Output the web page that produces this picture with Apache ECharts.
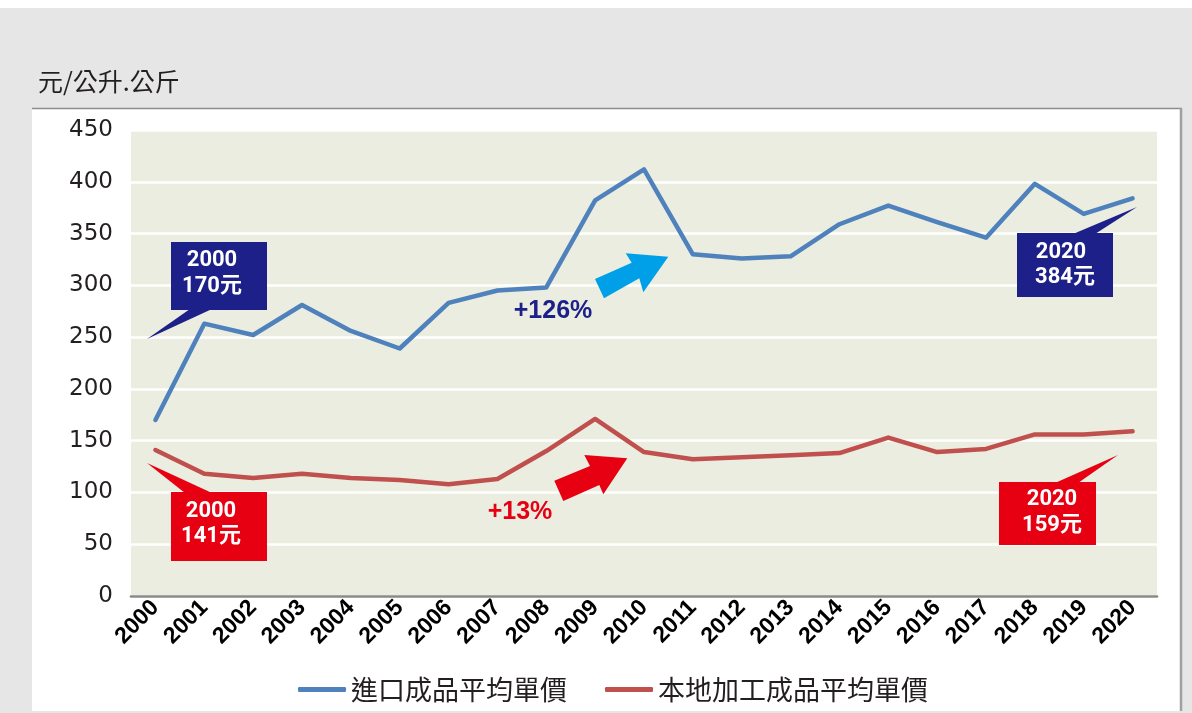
<!DOCTYPE html>
<html>
<head>
<meta charset="utf-8">
<script src="https://cdn.jsdelivr.net/npm/echarts@6/dist/echarts.min.js"></script>
<style>
html,body{margin:0;padding:0;background:#e6e6e6;}
#chart{width:1192px;height:713px;}
</style>
</head>
<body>
<div id="chart"></div>
<script>
const years = ['2000','2001','2002','2003','2004','2005','2006','2007','2008','2009','2010',
               '2011','2012','2013','2014','2015','2016','2017','2018','2019','2020'];
const importPrice = [170,263,252,281,256,239,283,295,298,382,412,330,326,328,359,377,361,346,398,369,384];
const localPrice  = [141,118,114,118,114,112,108,113,140,171,139,132,134,136,138,153,139,142,156,156,159];
const seriesNames = ['進口成品平均單價','本地加工成品平均單價'];
const unitTitle = '元/公升.公斤';
const yMin = 0, yMax = 450, yStep = 50;

const first = 0, last = years.length - 1;
const pct = arr => '+' + Math.round((arr[last] - arr[first]) / arr[first] * 100) + '%';
const lbl = (arr, i) => [years[i], arr[i] + '元'];

const NAVY = '#1d2088', RED = '#e60012', CYAN = '#00a0e9';
const cFont = 'bold 22px Roboto, "Noto Sans CJK TC", sans-serif';
const pFont = 'bold 25px "Liberation Sans", Arial, sans-serif';

function txt(t, x, y, fill, font) {
  return {type:'text', z:120, style:{text:t, x:x, y:y, fill:fill, font:font, align:'center', verticalAlign:'middle'}};
}
function poly(points, fill) {
  return {type:'polygon', z:110, shape:{points:points}, style:{fill:fill}};
}
function rect(x, y, w, h, fill, z) {
  return {type:'rect', z:z, shape:{x:x, y:y, width:w, height:h}, style:{fill:fill}};
}

const bl0 = lbl(importPrice, first), bl1 = lbl(importPrice, last);
const rl0 = lbl(localPrice, first), rl1 = lbl(localPrice, last);

const graphics = [
  rect(0, 0, 1192, 8, '#ffffff', -10),
  rect(32, 108, 1150, 603, '#ffffff', -10),
  {type:'line', z:-9, shape:{x1:32, y1:108.5, x2:1182, y2:108.5}, style:{stroke:'#8c8c8c', lineWidth:1.5}},
  {type:'line', z:-9, shape:{x1:1181, y1:108, x2:1181, y2:711}, style:{stroke:'#a0a0a0', lineWidth:2.5}},
  // blue callout 2000
  rect(171, 242, 96, 68, NAVY, 110),
  poly([[190,309],[212,309],[147,339]], NAVY),
  txt(bl0[0], 212, 260, '#ffffff', cFont),
  txt(bl0[1], 212, 286, '#ffffff', cFont),
  // blue callout 2020
  rect(1017, 233, 96, 64, NAVY, 110),
  poly([[1073,234],[1095,234],[1137,207]], NAVY),
  txt(bl1[0], 1061, 252, '#ffffff', cFont),
  txt(bl1[1], 1065, 277, '#ffffff', cFont),
  // red callout 2000
  rect(171, 492, 96, 69, RED, 110),
  poly([[185,493],[212,493],[147,463]], RED),
  txt(rl0[0], 211, 511, '#ffffff', cFont),
  txt(rl0[1], 211, 536, '#ffffff', cFont),
  // red callout 2020
  rect(999, 482, 97, 63, RED, 110),
  poly([[1055,483],[1078,483],[1118,455]], RED),
  txt(rl1[0], 1052, 499, '#ffffff', cFont),
  txt(rl1[1], 1052, 525, '#ffffff', cFont),
  // arrows
  poly([[595,279],[631.7,262.7],[625.7,253.3],[668.3,256.7],[643.3,292.3],[639.3,278.3],[604,298.3]], CYAN),
  poly([[554.3,480.7],[590,466],[584.3,455],[627.3,458.3],[603.3,494.3],[599.3,485],[563.3,501]], RED),
  txt(pct(importPrice), 553, 311, NAVY, pFont),
  txt(pct(localPrice), 520, 512, RED, pFont)
];

const chart = echarts.init(document.getElementById('chart'), null, {renderer:'canvas'});
chart.setOption({
  backgroundColor:'#e6e6e6',
  animation:false,
  title:{
    text:unitTitle, left:33, top:64,
    textStyle:{fontFamily:'"Noto Sans CJK TC", sans-serif', fontSize:25, fontWeight:'normal', color:'#231f20'}
  },
  grid:{left:131, right:35, top:130, bottom:117, show:true, backgroundColor:'#eaeddf', borderWidth:0, containLabel:false},
  legend:{
    data:seriesNames, left:293, top:671, itemGap:38, itemWidth:48, itemHeight:5, icon:'roundRect',
    textStyle:{fontFamily:'"Noto Sans CJK TC", sans-serif', fontSize:27, color:'#231f20'}
  },
  xAxis:{
    type:'category', data:years, boundaryGap:true,
    axisLine:{show:true, lineStyle:{color:'#8a8a8a', width:2.7}},
    axisTick:{show:false},
    axisLabel:{rotate:45, margin:8, interval:0, color:'#000000', fontSize:23, fontWeight:'bold',
               fontFamily:'"Liberation Sans", Arial, sans-serif'}
  },
  yAxis:{
    type:'value', min:yMin, max:yMax, interval:yStep,
    axisLine:{show:false}, axisTick:{show:false},
    splitLine:{show:true, lineStyle:{color:'#ffffff', width:2.5}},
    axisLabel:{margin:18, color:'#231f20', fontSize:23, fontFamily:'"DejaVu Sans", Verdana, sans-serif'}
  },
  series:[
    {name:seriesNames[0], type:'line', data:importPrice, symbol:'none', z:5,
     itemStyle:{color:'#4f81bd'}, lineStyle:{color:'#4f81bd', width:4.5, cap:'round', join:'round'}},
    {name:seriesNames[1], type:'line', data:localPrice, symbol:'none', z:5,
     itemStyle:{color:'#c0504d'}, lineStyle:{color:'#c0504d', width:4.5, cap:'round', join:'round'}}
  ],
  graphic:graphics
});
</script>
</body>
</html>
